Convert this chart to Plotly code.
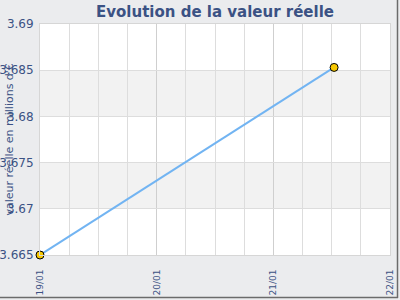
import plotly.graph_objects as go

dates = ["2024-01-19 00:00", "2024-01-21 12:30"]
values = [3.665, 3.6853]

y_ticks = [3.665, 3.67, 3.675, 3.68, 3.685, 3.69]
y_tick_labels = ["3.665", "3.67", "3.675", "3.68", "3.685", "3.69"]
x_ticks = ["2024-01-19", "2024-01-20", "2024-01-21", "2024-01-22"]
x_tick_labels = ["19/01", "20/01", "21/01", "22/01"]
bands = [(3.67, 3.675), (3.68, 3.685)]

title = "Evolution de la valeur réelle"
y_title = "valeur réelle en millions d'€"

text_col = "#3b5284"
font_fam = "DejaVu Sans, Verdana, sans-serif"

fig = go.Figure()
fig.add_trace(go.Scatter(
    x=dates, y=values, mode="lines+markers",
    line=dict(color="#72b4f2", width=2),
    marker=dict(color="#f7c800", size=8, line=dict(color="#000000", width=1)),
    cliponaxis=False, showlegend=False,
))

shapes = []
for y0, y1 in bands:
    shapes.append(dict(type="rect", xref="x domain", yref="y", x0=0, x1=1, y0=y0, y1=y1,
                       fillcolor="#f2f2f2", line=dict(width=0), layer="below"))
# outer shadow border (bottom and right)
shapes.append(dict(type="line", xref="paper", yref="paper",
                   x0=-40/350, x1=(398-40)/350, y0=-(297.5-255)/231, y1=-(297.5-255)/231,
                   line=dict(color="#6b6b6b", width=1.5)))
shapes.append(dict(type="line", xref="paper", yref="paper",
                   x0=(397.5-40)/350, x1=(397.5-40)/350, y0=-(298-255)/231, y1=(255)/231,
                   line=dict(color="#6b6b6b", width=1.5)))

fig.update_layout(
    width=400, height=300,
    margin=dict(l=40, r=10, t=24, b=45, autoexpand=False),
    paper_bgcolor="#ebecee", plot_bgcolor="#ffffff",
    font=dict(family=font_fam, color=text_col, size=11),
    title=dict(text="<b>" + title + "</b>", x=(215)/400, xanchor="center", y=1 - 12/300,
               yanchor="middle", font=dict(size=15, color=text_col, family=font_fam)),
    shapes=shapes,
    annotations=[dict(text=y_title, xref="paper", yref="paper", x=(9-40)/350, y=0.5,
                      textangle=-90, showarrow=False, xanchor="center", yanchor="middle",
                      font=dict(size=11, color=text_col))],
    xaxis=dict(
        type="date", range=[x_ticks[0], x_ticks[-1]],
        tickvals=x_ticks, ticktext=x_tick_labels, tickangle=-90,
        tickfont=dict(size=9, color=text_col), automargin=False,
        ticklabelstandoff=10,
        showgrid=True, gridcolor="#cfcfcf", gridwidth=1,
        minor=dict(dtick=6 * 3600 * 1000, showgrid=True, gridcolor="#dddddd", gridwidth=1),
        showline=True, linecolor="#d6d6d6", linewidth=1, mirror=True,
        zeroline=False, ticks="", ticklen=0,
    ),
    yaxis=dict(
        range=[y_ticks[0], y_ticks[-1]],
        tickvals=y_ticks, ticktext=y_tick_labels, automargin=False,
        tickfont=dict(size=12, color=text_col), ticklabelstandoff=3,
        showgrid=True, gridcolor="#dddddd", gridwidth=1,
        showline=True, linecolor="#d6d6d6", linewidth=1, mirror=True,
        zeroline=False, ticks="", ticklen=0,
    ),
)

fig.write_html("out.html")
